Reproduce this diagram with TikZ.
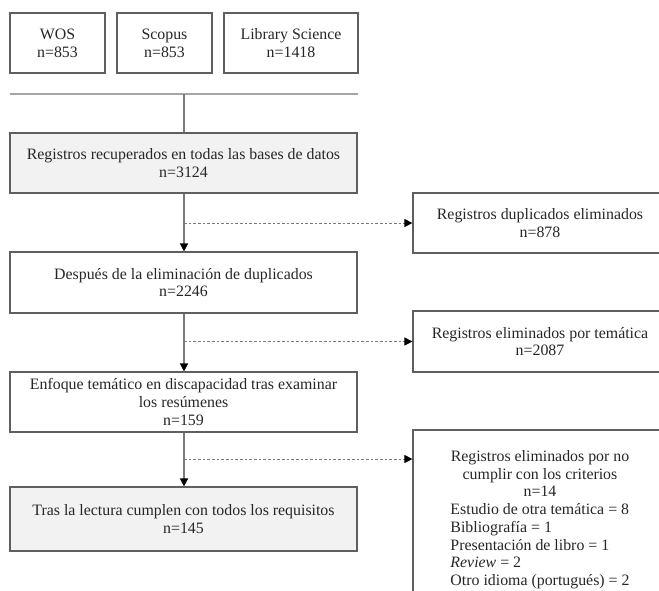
\documentclass[tikz,border=0pt]{standalone}
\usepackage{fontspec}
\setmainfont{Liberation Serif}
\usetikzlibrary{arrows.meta}

\definecolor{boxline}{HTML}{5F5F5F}
\definecolor{boxfill}{HTML}{F2F2F2}
\definecolor{flowline}{HTML}{7A7A7A}

\begin{document}
\begin{tikzpicture}[x=0.75pt, y=-0.75pt,
  box/.style={draw=boxline, line width=0.9pt, inner sep=0pt, align=center, text=black!85,
    font=\fontsize{11.9}{13.3}\selectfont},
  flow/.style={draw=flowline, line width=1.1pt, -{Triangle[length=6pt, width=6pt, color=black]}},
  skip/.style={draw=flowline, line width=0.7pt, dash pattern=on 2pt off 1.5pt, -{Triangle[length=6pt, width=6pt, color=black]}}]
  \useasboundingbox (0,0) rectangle (659,590);
  \clip (0,0) rectangle (659,590);

  % Databases
  \node[box, minimum width=95*0.75pt, minimum height=60*0.75pt] (wos) at (57.5,43) {WOS\\n=853};
  \node[box, minimum width=95*0.75pt, minimum height=60*0.75pt] (scopus) at (164.5,43) {Scopus\\n=853};
  \node[box, minimum width=134*0.75pt, minimum height=60*0.75pt] (lib) at (291,43) {Library Science\\n=1418};

  % Join line
  \coordinate (joinl) at (10,94);
  \coordinate (joinr) at (358,94);
  \coordinate (joinm) at (184,94);
  \draw[draw=black!35, line width=1.6pt] (joinl) -- (joinr);

  % Main column
  \node[box, fill=boxfill, minimum width=347*0.75pt, minimum height=60*0.75pt] (reg) at (183.5,163)
    {Registros recuperados en todas las bases de datos\\n=3124};
  \node[box, minimum width=347*0.75pt, minimum height=61*0.75pt] (desp) at (183.5,282.5)
    {Después de la eliminación de duplicados\\n=2246};
  \node[box, minimum width=347*0.75pt, minimum height=60*0.75pt] (enf) at (183.5,402)
    {Enfoque temático en discapacidad tras examinar\\los resúmenes\\n=159};
  \node[box, fill=boxfill, minimum width=347*0.75pt, minimum height=64*0.75pt] (tras) at (183.5,519)
    {Tras la lectura cumplen con todos los requisitos\\n=145};

  % Excluded records
  \node[box, minimum width=254*0.75pt, minimum height=60*0.75pt] (dup) at (540,223)
    {Registros duplicados eliminados\\n=878};
  \node[box, minimum width=254*0.75pt, minimum height=61*0.75pt] (tem) at (540,341.5)
    {Registros eliminados por temática\\n=2087};
  \node[box, minimum width=254*0.75pt, minimum height=180*0.75pt] (crit) at (540,520)
    {\begin{tabular}{@{}l@{}}
      \multicolumn{1}{@{}c@{}}{Registros eliminados por no}\\
      \multicolumn{1}{@{}c@{}}{cumplir con los criterios}\\
      \multicolumn{1}{@{}c@{}}{n=14}\\
      Estudio de otra temática = 8\\
      Bibliografía = 1\\
      Presentación de libro = 1\\
      \textit{Review} = 2\\
      Otro idioma (portugués) = 2
    \end{tabular}};

  % Arrows
  \draw[draw=flowline, line width=1.1pt] (joinm) -- (joinm |- reg.north);
  \draw[flow] (reg.south -| joinm) -- (desp.north -| joinm);
  \draw[flow] (desp.south -| joinm) -- (enf.north -| joinm);
  \draw[flow] (enf.south -| joinm) -- (tras.north -| joinm);

  \coordinate (s1) at (184,223);
  \coordinate (s2) at (184,341.5);
  \coordinate (s3) at (184,459);
  \draw[skip] (s1) -- (dup.west);
  \draw[skip] (s2) -- (tem.west);
  \draw[skip] (s3) -- (s3 -| crit.west);

\end{tikzpicture}
\end{document}
